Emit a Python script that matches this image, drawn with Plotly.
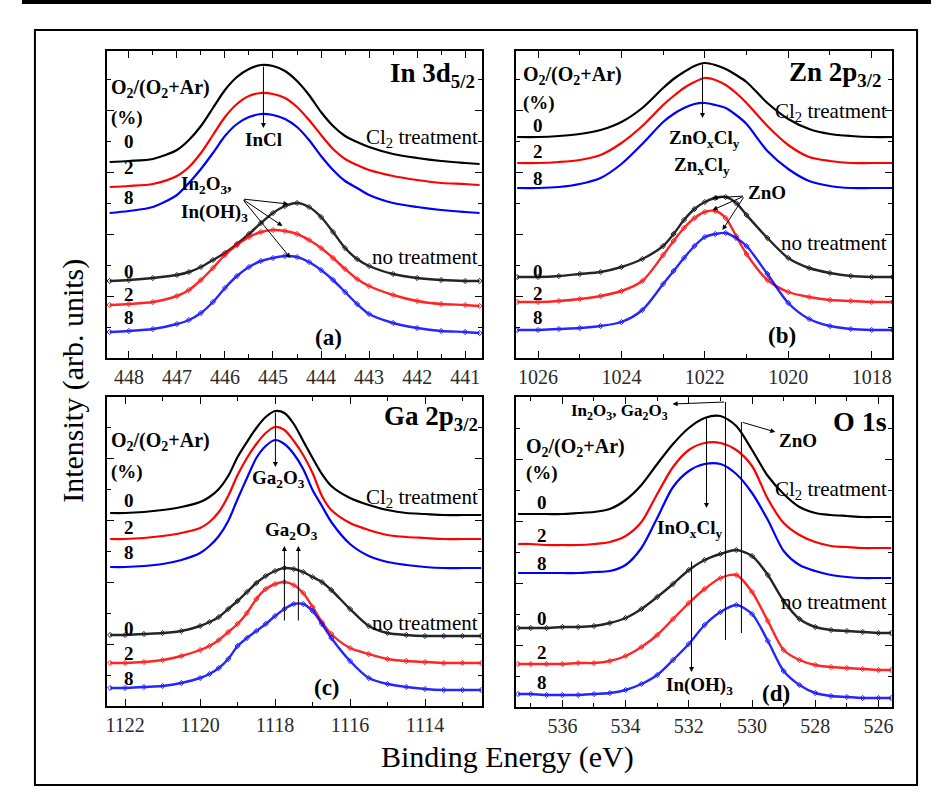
import plotly.graph_objects as go

W, H = 944, 809
SERIF = "Liberation Serif, Times New Roman, DejaVu Serif, serif"

# ---------------- data (intensity in arbitrary units) ----------------
# Panel (a) In 3d5/2
E_a = [448.4, 448.0, 447.5, 447.0, 446.75, 446.5, 446.25, 446.0, 445.75, 445.5, 445.25, 445.0,
       444.75, 444.5, 444.25, 444.0, 443.75, 443.5, 443.25, 443.0, 442.5, 442.0, 441.5, 441.0, 440.7]
a_cl_0 = [196, 197, 199, 208, 218, 232, 250, 268, 281, 289, 293, 292, 287, 277, 263, 246, 232, 222, 216, 211, 204, 200, 197, 195, 194]
a_cl_2 = [171, 172, 174, 182, 191, 205, 223, 241, 254, 262, 265, 264, 260, 251, 238, 223, 209, 199, 193, 188, 182, 178, 175, 174, 173]
a_cl_8 = [145, 147, 151, 163, 175, 189, 205, 222, 234, 241, 244, 243, 239, 231, 218, 202, 188, 177, 170, 163, 155, 151, 148, 146, 145]
a_nt_0 = [77, 78, 80, 83, 86, 91, 98, 105, 114, 124, 135, 145, 152, 155, 151, 141, 126, 110, 99, 92, 84, 80, 78, 77, 77]
a_nt_2 = [53, 54, 56, 62, 68, 78, 90, 103, 113, 121, 126, 128, 127, 124, 118, 110, 100, 89, 79, 72, 63, 57, 54, 53, 52]
a_nt_8 = [26, 27, 29, 34, 38, 45, 56, 70, 82, 91, 97, 100, 102, 101, 96, 88, 78, 66, 54, 44, 35, 30, 27, 26, 25]

# Panel (b) Zn 2p3/2
E_b = [1026.5, 1026.0, 1025.5, 1025.0, 1024.5, 1024.0, 1023.5, 1023.0, 1022.75, 1022.5, 1022.25, 1022.0,
       1021.75, 1021.5, 1021.25, 1021.0, 1020.5, 1020.0, 1019.5, 1019.0, 1018.5, 1018.0, 1017.5]
b_cl_0 = [221, 221, 222, 224, 228, 236, 250, 270, 279, 286, 292, 295, 293, 289, 283, 276, 255, 239, 229, 224, 222, 221, 221]
b_cl_2 = [195, 195, 196, 198, 203, 215, 232, 253, 262, 270, 276, 280, 278, 273, 265, 255, 232, 213, 201, 197, 195, 195, 195]
b_cl_8 = [170, 170, 171, 174, 180, 194, 214, 236, 244, 250, 254, 255, 253, 250, 243, 234, 207, 189, 177, 172, 170, 170, 170]
b_nt_0 = [81, 81, 82, 84, 86, 91, 99, 112, 124, 138, 149, 156, 160, 161, 155, 143, 120, 100, 90, 85, 82, 81, 81]
b_nt_2 = [56, 56, 57, 59, 62, 67, 77, 103, 117, 130, 140, 146, 147, 140, 122, 104, 78, 66, 61, 58, 57, 56, 56]
b_nt_8 = [28, 28, 29, 30, 32, 36, 48, 74, 87, 100, 112, 121, 124, 125, 120, 112, 84, 55, 39, 32, 29, 28, 28]

# Panel (c) Ga 2p3/2
E_c = [1122.4, 1122.0, 1121.5, 1121.0, 1120.5, 1120.0, 1119.75, 1119.5, 1119.25, 1119.0, 1118.75, 1118.5,
       1118.25, 1118.0, 1117.75, 1117.5, 1117.25, 1117.0, 1116.75, 1116.5, 1116.0, 1115.5, 1115.0, 1114.5,
       1114.0, 1113.5, 1113.0, 1112.5]
c_cl_0 = [193, 193, 194, 196, 199, 204, 209, 217, 230, 249, 264, 278, 289, 295, 293, 282, 265, 248, 232, 220, 208, 201, 196, 193, 192, 191, 191, 191]
c_cl_2 = [167, 167, 168, 170, 173, 178, 184, 194, 210, 231, 248, 262, 273, 279, 276, 265, 251, 233, 210, 196, 183, 176, 171, 169, 168, 167, 167, 167]
c_cl_8 = [139, 139, 140, 142, 146, 153, 160, 170, 185, 207, 228, 248, 260, 266, 262, 252, 237, 216, 200, 184, 162, 150, 144, 141, 139, 138, 138, 138]
c_nt_0 = [71, 71, 72, 73, 75, 80, 84, 89, 97, 105, 114, 123, 130, 135, 138, 137, 134, 129, 124, 116, 97, 80, 73, 71, 70, 70, 70, 70]
c_nt_2 = [43, 43, 44, 46, 50, 56, 60, 66, 74, 82, 93, 107, 117, 122, 124, 121, 113, 99, 84, 72, 58, 52, 47, 45, 44, 43, 43, 43]
c_nt_8 = [18, 18, 19, 20, 23, 28, 32, 38, 47, 60, 68, 75, 82, 90, 97, 102, 102, 95, 82, 68, 45, 28, 22, 19, 17, 16, 16, 16]

# Panel (d) O 1s
E_d = [537.4, 537.0, 536.5, 536.0, 535.5, 535.0, 534.5, 534.0, 533.5, 533.0, 532.5, 532.0, 531.5,
       531.0, 530.5, 530.0, 529.5, 529.0, 528.5, 528.0, 527.5, 527.0, 526.5, 526.0, 525.6]
d_cl_0 = [193, 193, 193, 193, 194, 195, 198, 207, 222, 243, 263, 279, 289, 291, 281, 257, 231, 213, 200, 194, 192, 191, 190, 190, 190]
d_cl_2 = [163, 163, 162, 162, 162, 163, 165, 171, 185, 213, 240, 257, 264, 264, 257, 241, 208, 184, 172, 165, 161, 160, 159, 159, 159]
d_cl_8 = [134, 134, 134, 134, 134, 135, 136, 142, 159, 189, 220, 236, 243, 243, 233, 214, 187, 156, 142, 136, 132, 130, 129, 129, 129]
d_nt_0 = [79, 79, 79, 80, 80, 81, 84, 89, 98, 110, 123, 137, 147, 153, 157, 151, 132, 106, 88, 80, 77, 76, 75, 74, 74]
d_nt_2 = [43, 43, 43, 43, 44, 44, 46, 51, 60, 72, 88, 104, 118, 129, 132, 115, 86, 57, 47, 42, 40, 39, 38, 37, 37]
d_nt_8 = [13, 13, 12, 12, 12, 13, 14, 17, 23, 32, 47, 63, 82, 95, 102, 93, 66, 36, 22, 14, 11, 10, 9, 9, 9]

x_ticks_a = [448, 447, 446, 445, 444, 443, 442, 441]
x_ticks_b = [1026, 1024, 1022, 1020, 1018]
x_ticks_c = [1122, 1120, 1118, 1116, 1114]
x_ticks_d = [536, 534, 532, 530, 528, 526]

COLORS = ["#000000", "#ff0000", "#0000ff"]

# ---------------- figure ----------------
fig = go.Figure()

panels = [
    ("x", "y", E_a, [a_cl_0, a_cl_2, a_cl_8], [a_nt_0, a_nt_2, a_nt_8]),
    ("x2", "y2", E_b, [b_cl_0, b_cl_2, b_cl_8], [b_nt_0, b_nt_2, b_nt_8]),
    ("x3", "y3", E_c, [c_cl_0, c_cl_2, c_cl_8], [c_nt_0, c_nt_2, c_nt_8]),
    ("x4", "y4", E_d, [d_cl_0, d_cl_2, d_cl_8], [d_nt_0, d_nt_2, d_nt_8]),
]
for xa, ya, E, cl, nt in panels:
    for ser, col in zip(cl, COLORS):
        fig.add_trace(go.Scatter(x=E, y=ser, xaxis=xa, yaxis=ya, mode="lines",
                                 line=dict(color=col, width=2.2, shape="spline", smoothing=0.8),
                                 showlegend=False, hoverinfo="skip"))
    for ser, col in zip(nt, COLORS):
        fig.add_trace(go.Scatter(x=E, y=ser, xaxis=xa, yaxis=ya, mode="lines+markers",
                                 line=dict(color=col, width=2.4, shape="spline", smoothing=0.8),
                                 marker=dict(symbol="diamond-open", size=4, color=col, line=dict(width=1)),
                                 opacity=0.85, showlegend=False, hoverinfo="skip"))

def dom_x(l, r):
    return [l / W, r / W]

def dom_y(t, b):
    return [1 - b / H, 1 - t / H]

tickfont = dict(family=SERIF, size=20, color="#2a2a2a")

def xaxis(domain, rng, tickvals, minor_dt, anchor):
    return dict(domain=domain, range=rng, tickvals=tickvals, ticks="inside", ticklen=7,
                tickwidth=1, tickcolor="black", mirror="allticks", showline=True, linewidth=1.8,
                linecolor="black", showgrid=False, zeroline=False, tickfont=tickfont, anchor=anchor,
                minor=dict(dtick=minor_dt, ticks="inside", ticklen=4, tickcolor="black", showgrid=False))

def yaxis(domain, rng, anchor):
    return dict(domain=domain, range=rng, tick0=0, dtick=62, ticks="inside", ticklen=7, tickwidth=1,
                tickcolor="black", mirror="allticks", showline=True, linewidth=1.8, linecolor="black",
                showgrid=False, zeroline=False, showticklabels=False, anchor=anchor,
                minor=dict(dtick=31, ticks="inside", ticklen=4, tickcolor="black", showgrid=False))

fig.update_layout(
    width=W, height=H, margin=dict(l=0, r=0, t=0, b=0),
    paper_bgcolor="white", plot_bgcolor="white", showlegend=False,
    font=dict(family=SERIF),
    xaxis=xaxis(dom_x(106, 482), [448.46, 440.65], x_ticks_a, 0.5, "y"),
    yaxis=yaxis(dom_y(51, 358), [0, 307], "x"),
    xaxis2=xaxis(dom_x(516, 893), [1026.53, 1017.51], x_ticks_b, 1, "y2"),
    yaxis2=yaxis(dom_y(51, 358), [0, 307], "x2"),
    xaxis3=xaxis(dom_x(106, 482), [1122.49, 1112.48], x_ticks_c, 1, "y3"),
    yaxis3=yaxis(dom_y(397, 706), [0, 309], "x3"),
    xaxis4=xaxis(dom_x(516, 893), [537.47, 525.57], x_ticks_d, 1, "y4"),
    yaxis4=yaxis(dom_y(397, 707), [0, 310], "x4"),
)

ann = []
shapes = []

def txt(x, y, s, size, bold=False, xanchor="center", angle=0):
    ann.append(dict(xref="paper", yref="paper", x=x / W, y=1 - y / H,
                    text=("<b>" + s + "</b>") if bold else s, showarrow=False, textangle=angle,
                    font=dict(family=SERIF, size=size, color="black"),
                    xanchor=xanchor, yanchor="middle"))

def arrow(x0, y0, x1, y1):
    ann.append(dict(xref="paper", yref="paper", x=x1 / W, y=1 - y1 / H, ax=x0 - x1, ay=y0 - y1,
                    axref="pixel", ayref="pixel", text="", showarrow=True, arrowhead=2,
                    arrowsize=1, arrowwidth=1, arrowcolor="black", standoff=0, startstandoff=0))

def seg(x0, y0, x1, y1):
    shapes.append(dict(type="line", xref="paper", yref="paper", x0=x0 / W, y0=1 - y0 / H,
                       x1=x1 / W, y1=1 - y1 / H, line=dict(color="black", width=1)))

O2 = "O<sub>2</sub>/(O<sub>2</sub>+Ar)"

def ratio_labels(xl, ytitle, ypct, xnum, ynums):
    txt(xl, ytitle, O2, 20, bold=True, xanchor="left")
    txt(xl, ypct, "(%)", 19, bold=True, xanchor="left")
    for y, s in zip(ynums, ["0", "2", "8", "0", "2", "8"]):
        txt(xnum, y, s, 19, bold=True)

# Panel (a)
txt(388, 75, "In 3d<sub>5/2</sub>", 27, bold=True, xanchor="left")
ratio_labels(108, 88, 118, 128, [142, 168, 197, 272, 295, 318])
txt(263, 139, "InCl", 19, bold=True)
arrow(263, 65, 263, 128)
txt(480, 138, "Cl<sub>2</sub> treatment", 21, xanchor="right")
txt(480, 257, "no treatment", 21, xanchor="right")
txt(178, 185, "In<sub>2</sub>O<sub>3</sub>,", 19, bold=True, xanchor="left")
txt(178, 213, "In(OH)<sub>3</sub>", 19, bold=True, xanchor="left")
arrow(242, 199, 288, 204)
arrow(242, 199, 282, 226)
arrow(242, 199, 290, 258)
txt(328, 337, "(a)", 23, bold=True)

# Panel (b)
txt(788, 74, "Zn 2p<sub>3/2</sub>", 27, bold=True, xanchor="left")
ratio_labels(521, 75, 103, 538, [125, 152, 178, 272, 293, 318])
txt(705, 139, "ZnO<sub>x</sub>Cl<sub>y</sub>", 19, bold=True)
txt(702, 166, "Zn<sub>x</sub>Cl<sub>y</sub>", 19, bold=True)
arrow(703, 63, 703, 118)
txt(747, 192, "ZnO", 19, bold=True, xanchor="left")
arrow(745, 196, 713, 198)
arrow(745, 196, 713, 210)
arrow(745, 196, 723, 230)
txt(890, 112, "Cl<sub>2</sub> treatment", 21, xanchor="right")
txt(890, 243, "no treatment", 21, xanchor="right")
txt(783, 336, "(b)", 23, bold=True)

# Panel (c)
txt(382, 418, "Ga 2p<sub>3/2</sub>", 27, bold=True, xanchor="left")
ratio_labels(108, 441, 472, 128, [500, 527, 552, 628, 653, 678])
txt(278, 479, "Ga<sub>2</sub>O<sub>3</sub>", 19, bold=True)
arrow(275, 411, 275, 467)
txt(291, 531, "Ga<sub>2</sub>O<sub>3</sub>", 19, bold=True)
arrow(284, 622, 284, 546)
arrow(298, 622, 298, 546)
txt(480, 498, "Cl<sub>2</sub> treatment", 21, xanchor="right")
txt(480, 623, "no treatment", 21, xanchor="right")
txt(327, 687, "(c)", 23, bold=True)

# Panel (d)
txt(890, 422, "O 1s", 28, bold=True, xanchor="right")
ratio_labels(524, 447, 473, 542, [503, 535, 563, 618, 652, 682])
txt(620, 412, "In<sub>2</sub>O<sub>3</sub>, Ga<sub>2</sub>O<sub>3</sub>", 17, bold=True)
arrow(726, 402, 673, 404)
seg(726, 402, 726, 640)
seg(742, 422, 742, 633)
arrow(742, 422, 776, 432)
txt(778, 440, "ZnO", 19, bold=True, xanchor="left")
arrow(707, 417, 707, 508)
txt(690, 529, "InO<sub>x</sub>Cl<sub>y</sub>", 19, bold=True)
arrow(692, 560, 692, 672)
txt(700, 686, "In(OH)<sub>3</sub>", 19, bold=True)
txt(890, 490, "Cl<sub>2</sub> treatment", 21, xanchor="right")
txt(890, 602, "no treatment", 21, xanchor="right")
txt(777, 693, "(d)", 23, bold=True)

# axis titles
txt(72, 381, "Intensity (arb. units)", 30, angle=-90)
txt(508, 757, "Binding Energy (eV)", 30)

# frame and top rule
shapes.append(dict(type="rect", xref="paper", yref="paper", x0=34 / W, y0=1 - 785 / H,
                   x1=918 / W, y1=1 - 30 / H, line=dict(color="black", width=2)))
shapes.append(dict(type="line", xref="paper", yref="paper", x0=21 / W, y0=1 - 2 / H,
                   x1=932 / W, y1=1 - 2 / H, line=dict(color="black", width=4)))

fig.update_layout(annotations=ann, shapes=shapes)
fig.write_html("out.html")
